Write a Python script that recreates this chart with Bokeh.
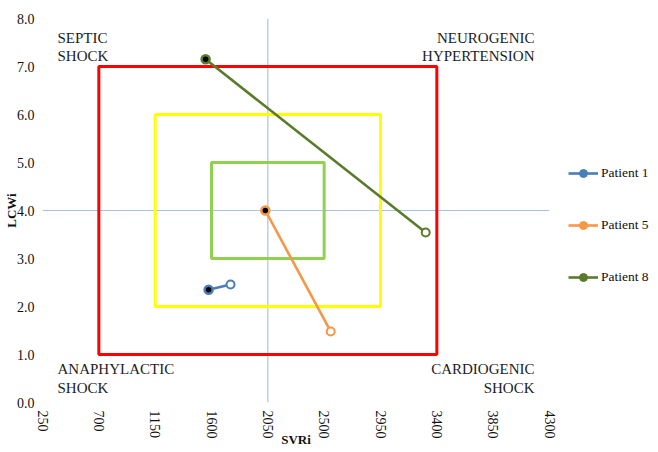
import math
from bokeh.plotting import figure
from bokeh.models import (Range1d, FixedTicker, PrintfTickFormatter, Span,
                          Legend, LegendItem, ColumnDataSource)
from bokeh.core.properties import value
from bokeh.embed import file_html
from bokeh.resources import INLINE

# ---- data ----
x_ticks = [250, 700, 1150, 1600, 2050, 2500, 2950, 3400, 3850, 4300]
y_ticks = [0, 1, 2, 3, 4, 5, 6, 7, 8]

zone_colors = ["#ff0000", "#ffff00", "#92d050"]
zone_left = [700, 1150, 1600]
zone_right = [3400, 2950, 2500]
zone_bottom = [1, 2, 3]
zone_top = [7, 6, 5]

patients = ["Patient 1", "Patient 5", "Patient 8"]
patient_colors = ["#4a7ebb", "#f79646", "#5a7a2c"]
p1_svri = [1577, 1752]
p1_lcwi = [2.35, 2.46]
p5_svri = [2030, 2552]
p5_lcwi = [4.0, 1.48]
p8_svri = [1553, 3311]
p8_lcwi = [7.15, 3.54]

cross_x = 2050
cross_y = 4

FONT = "Liberation Serif"

p = figure(frame_width=507, frame_height=384, min_border_left=42, min_border_top=18,
           min_border_right=101, min_border_bottom=48,
           x_range=Range1d(250, 4300), y_range=Range1d(0, 8),
           output_backend="svg", toolbar_location=None)
p.outline_line_color = None
p.grid.visible = False

p.xaxis.ticker = FixedTicker(ticks=x_ticks)
p.yaxis.ticker = FixedTicker(ticks=y_ticks)
p.yaxis.formatter = PrintfTickFormatter(format="%.1f")
for ax in (p.xaxis, p.yaxis):
    ax.axis_line_color = None
    ax.major_tick_line_color = None
    ax.minor_tick_line_color = None
    ax.major_tick_in = 0
    ax.major_tick_out = 0
    ax.major_label_text_font = FONT
    ax.major_label_text_font_size = "14px"
    ax.major_label_text_color = "#111111"
    ax.major_label_standoff = 8
    ax.axis_label_text_font = FONT
    ax.axis_label_text_font_size = "13px"
    ax.axis_label_text_font_style = "bold"
    ax.axis_label_text_color = "#111111"
p.xaxis.major_label_orientation = -math.pi / 2
p.xaxis.axis_label = "SVRi"
p.yaxis.axis_label = "LCWi"
p.xaxis.axis_label_standoff = -10
p.yaxis.axis_label_standoff = -5

# crosshair axes
for loc, dim in ((cross_x, "height"), (cross_y, "width")):
    p.add_layout(Span(location=loc, dimension=dim, line_color="#a9c4e2",
                      line_width=1.2, level="underlay"))

# zones
zsrc = ColumnDataSource(dict(left=zone_left, right=zone_right, bottom=zone_bottom,
                             top=zone_top, color=zone_colors))
p.quad(left="left", right="right", bottom="bottom", top="top", source=zsrc,
       fill_color=None, line_color="color", line_width=3)

# patients
items = []
for name, xs, ys, c in zip(patients, [p1_svri, p5_svri, p8_svri],
                           [p1_lcwi, p5_lcwi, p8_lcwi], patient_colors):
    lr = p.line(xs, ys, line_color=c, line_width=2.6)
    p.scatter(xs[:1], ys[:1], size=8, fill_color="black", line_color=c, line_width=2.5)
    p.scatter(xs[1:], ys[1:], size=8, fill_color="white", line_color=c, line_width=2)
    dot = p.scatter([float("nan")], [float("nan")], size=9, fill_color=c, line_color=c)
    items.append(LegendItem(label=name, renderers=[lr, dot]))

legend = Legend(items=items, location=(19, 115), orientation="vertical", spacing=32,
                glyph_width=30, glyph_height=20, label_height=20, label_standoff=3,
                padding=0, margin=0, border_line_color=None, background_fill_alpha=0,
                label_text_font=FONT, label_text_font_size="13.5px",
                label_text_color="#111111")
p.add_layout(legend, "right")

# corner labels
corner_kw = dict(text_font=value(FONT), text_font_size="15px", text_color="#222222",
                 text_line_height=1.15, text_baseline="top")
p.text(x=[370], y=[7.76], text=["SEPTIC\nSHOCK"], text_align="left", **corner_kw)
p.text(x=[4180], y=[7.76], text=["NEUROGENIC\nHYPERTENSION"], text_align="right", **corner_kw)
p.text(x=[370], y=[0.86], text=["ANAPHYLACTIC\nSHOCK"], text_align="left", **corner_kw)
p.text(x=[4180], y=[0.86], text=["CARDIOGENIC\nSHOCK"], text_align="right", **corner_kw)

open("out.html", "w").write(file_html(p, INLINE))
